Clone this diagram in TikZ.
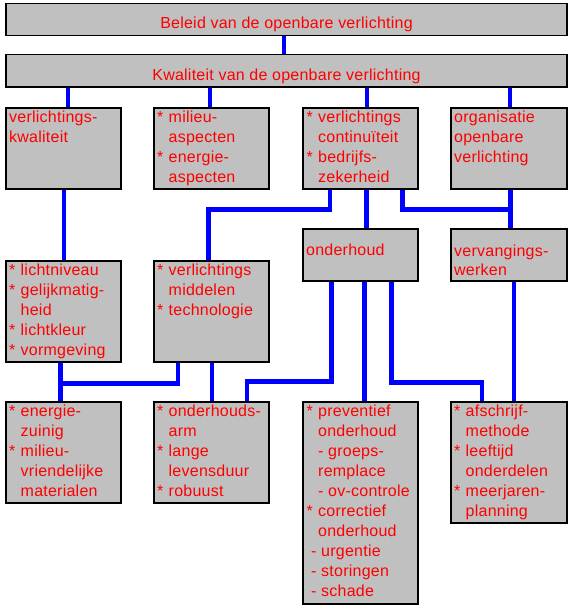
\documentclass[tikz,border=0pt]{standalone}
\usepackage{fontspec}
\setmainfont[LetterSpace=1.5]{Liberation Sans}
\usetikzlibrary{calc}
\pgfdeclarelayer{background}
\pgfsetlayers{background,main}
\definecolor{boxgray}{HTML}{C0C0C0}
\definecolor{txtred}{HTML}{FF0000}
\definecolor{lineblue}{HTML}{0000FF}
\newcommand{\st}{\makebox[11.5pt][l]{*}}
\newcommand{\ind}{\hspace*{11.5pt}}
\newcommand{\lns}[1]{\begin{tabular}[t]{@{}l@{}}#1\end{tabular}}
\begin{document}
\begin{tikzpicture}[x=1pt,y=-1pt,
  box/.style={draw=black, line width=1.5pt, fill=boxgray, rectangle, inner sep=0pt, anchor=north west},
  txt/.style={text=txtred, font=\fontsize{16}{20}\selectfont, inner sep=0pt, anchor=base west},
  ttl/.style={text=txtred, font=\fontsize{16}{20}\selectfont, inner sep=0pt, anchor=base},
  conn/.style={draw=lineblue, line width=4.8pt, line cap=butt, line join=miter}]
\useasboundingbox (0,0) rectangle (573,610);
% boxes
\node[box, minimum width=561pt, minimum height=32pt] (T) at (5,3) {};
\node[box, minimum width=561pt, minimum height=32pt] (Kw) at (5,54) {};
\node[box, minimum width=115pt, minimum height=81pt] (A) at (5,107) {};
\node[box, minimum width=115pt, minimum height=81pt] (B) at (153,107) {};
\node[box, minimum width=115pt, minimum height=81pt] (C) at (302,107) {};
\node[box, minimum width=116pt, minimum height=81pt] (D) at (450,107) {};
\node[box, minimum width=115pt, minimum height=101pt] (E) at (5,260) {};
\node[box, minimum width=115pt, minimum height=101pt] (F) at (153,260) {};
\node[box, minimum width=115pt, minimum height=52pt] (G) at (302,228) {};
\node[box, minimum width=116pt, minimum height=52pt] (H) at (450,228) {};
\node[box, minimum width=115pt, minimum height=101pt] (I) at (5,401) {};
\node[box, minimum width=115pt, minimum height=101pt] (J) at (153,401) {};
\node[box, minimum width=115pt, minimum height=202pt] (K) at (302,401) {};
\node[box, minimum width=116pt, minimum height=121pt] (L) at (450,401) {};
% texts
\node[ttl] (Tt) at ($(T.north west)+(281.5,26)$) {Beleid van de openbare verlichting};
\node[ttl] (Kwt) at ($(Kw.north west)+(281.5,27)$) {Kwaliteit van de openbare verlichting};
\node[txt] (At) at ($(A.north west)+(4,15)$) {\lns{verlichtings-\\kwaliteit}};
\node[txt] (Bt) at ($(B.north west)+(4,15)$) {\lns{\st milieu-\\\ind aspecten\\\st energie-\\\ind aspecten}};
\node[txt] (Ct) at ($(C.north west)+(4.5,15)$) {\lns{\st verlichtings\\\ind continuïteit\\\st bedrijfs-\\\ind zekerheid}};
\node[txt] (Dt) at ($(D.north west)+(4,15)$) {\lns{organisatie\\openbare\\verlichting}};
\node[txt] (Et) at ($(E.north west)+(4,15)$) {\lns{\st lichtniveau\\\st gelijkmatig-\\\ind heid\\\st lichtkleur\\\st vormgeving}};
\node[txt] (Ft) at ($(F.north west)+(4,15)$) {\lns{\st verlichtings\\\ind middelen\\\st technologie}};
\node[txt] (Gt) at ($(G.north west)+(4,27)$) {\lns{onderhoud}};
\node[txt] (Ht) at ($(H.north west)+(4,28)$) {\lns{vervangings-\\[-1pt]werken}};
\node[txt] (It) at ($(I.north west)+(4,15)$) {\lns{\st energie-\\\ind zuinig\\\st milieu-\\\ind vriendelijke\\\ind materialen}};
\node[txt] (Jt) at ($(J.north west)+(4,15)$) {\lns{\st onderhouds-\\\ind arm\\\st lange\\\ind levensduur\\\st robuust}};
\node[txt] (Kt) at ($(K.north west)+(4.5,15)$) {\lns{\st preventief\\\ind onderhoud\\\ind - groeps-\\\ind remplace\\\ind - ov-controle\\\st correctief\\\ind onderhoud\\\hspace*{4.5pt}- urgentie\\\hspace*{4.5pt}- storingen\\\hspace*{4.5pt}- schade}};
\node[txt] (Lt) at ($(L.north west)+(4,15)$) {\lns{\st afschrijf-\\\ind methode\\\st leeftijd\\\ind onderdelen\\\st meerjaren-\\\ind planning}};
% connectors
\begin{pgfonlayer}{background}
\fill[white] (0,0) rectangle (573,610);
\draw[conn] ($(T.south west)+(279,0)$) -- ($(Kw.north west)+(279,0)$);
\draw[conn] ($(Kw.south west)+(63,0)$) -- ($(A.north west)+(63,0)$);
\draw[conn] ($(Kw.south west)+(205,0)$) -- ($(B.north west)+(57,0)$);
\draw[conn] ($(Kw.south west)+(362,0)$) -- ($(C.north west)+(65,0)$);
\draw[conn] ($(Kw.south west)+(505,0)$) -- ($(D.north west)+(60,0)$);
\draw[conn] ($(A.south west)+(59,0)$) -- ($(E.north west)+(59,0)$);
\draw[conn] ($(C.south west)+(28,0)$) -- ++(0,20) -| ($(F.north west)+(55.7,0)$);
\draw[conn] ($(C.south west)+(64.5,0)$) -- ($(G.north west)+(64.5,0)$);
\draw[conn] ($(C.south west)+(100.5,0)$) -- ++(0,20) -| ($(H.north west)+(60.5,0)$);
\draw[conn] ($(D.south west)+(60.5,0)$) -- ($(H.north west)+(60.5,0)$);
\draw[conn] ($(E.south west)+(55.5,0)$) -- ($(I.north west)+(55.5,0)$);
\draw[conn] ($(F.south west)+(25,0)$) -- ++(0,20.7) -| ($(I.north west)+(55.5,0)$);
\draw[conn] ($(F.south west)+(59,0)$) -- ($(J.north west)+(59,0)$);
\draw[conn] ($(G.south west)+(29.7,0)$) -- ++(0,100) -| ($(J.north west)+(94,0)$);
\draw[conn] ($(G.south west)+(62.5,0)$) -- ($(K.north west)+(62.5,0)$);
\draw[conn] ($(G.south west)+(89.7,0)$) -- ++(0,101) -| ($(L.north west)+(32,0)$);
\draw[conn] ($(H.south west)+(64,0)$) -- ($(L.north west)+(64,0)$);
\end{pgfonlayer}
\end{tikzpicture}
\end{document}
